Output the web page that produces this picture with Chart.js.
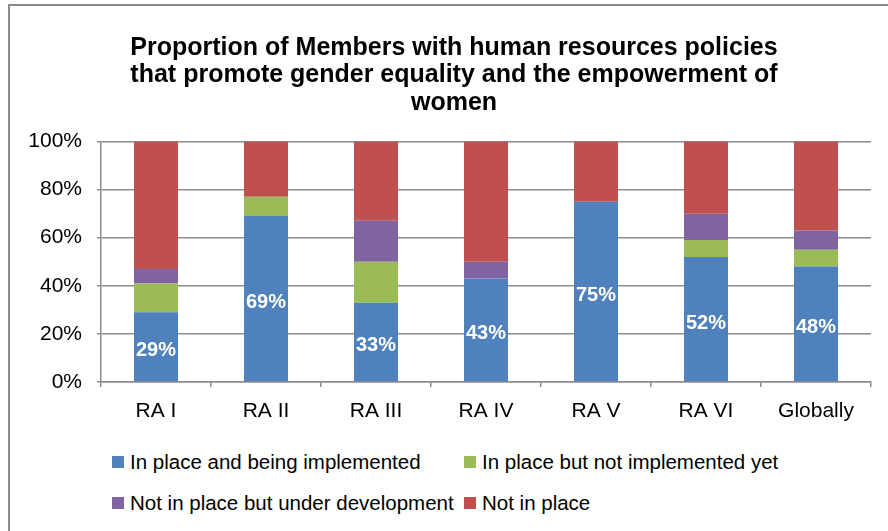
<!DOCTYPE html>
<html>
<head>
<meta charset="utf-8">
<script src="https://cdn.jsdelivr.net/npm/chart.js@4/dist/chart.umd.min.js"></script>
<style>
  html, body { margin: 0; padding: 0; background: #fff; }
  body { width: 888px; height: 531px; overflow: hidden; position: relative; font-family: "Liberation Sans", Arial, sans-serif; }
  #frame { position: absolute; left: 8px; top: 4px; width: 900px; height: 560px;
           border-left: 2px solid #8a8a8a; border-top: 2px solid #8a8a8a; }
  #wrap { position: absolute; left: 10px; top: 6px; width: 888px; height: 420px; }
  .lg { position: absolute; font-size: 20.5px; color: #000; line-height: 24px; white-space: nowrap; }
  .lg i { position: absolute; left: -18px; top: 6px; width: 12px; height: 12px; }
</style>
</head>
<body>
<div id="frame"></div>
<div id="wrap"><canvas id="c"></canvas></div>
<div id="legend"></div>
<script>
const categories = ['RA I', 'RA II', 'RA III', 'RA IV', 'RA V', 'RA VI', 'Globally'];
const seriesNames = [
  'In place and being implemented',
  'In place but not implemented yet',
  'Not in place but under development',
  'Not in place'
];
const implemented    = [29, 69, 33, 43, 75, 52, 48];
const notImplemented = [12,  8, 17,  0,  0,  7,  7];
const underDev       = [ 6,  0, 17,  7,  0, 11,  8];
const notInPlace     = [53, 23, 33, 50, 25, 30, 37];
const yTicks = [0, 20, 40, 60, 80, 100];

const colors = ['#4F81BD', '#9BBB59', '#8064A2', '#C0504D'];
const FONT = '"Liberation Sans", Arial, sans-serif';
const GRID = '#8c8c8c';

// legend in two fixed columns, as in the original
const lgPos = [[130, 450], [482, 450], [130, 491], [482, 491]];
const lg = document.getElementById('legend');
seriesNames.forEach((n, i) => {
    const d = document.createElement('div');
    d.className = 'lg';
    d.style.left = lgPos[i][0] + 'px';
    d.style.top  = lgPos[i][1] + 'px';
    d.innerHTML = `<i style="background:${colors[i]}"></i>${n}`;
    lg.appendChild(d);
});

// white % labels in the blue segments
const barLabels = {
    id: 'barLabels',
    afterDatasetsDraw(chart) {
        const ctx = chart.ctx;
        const meta = chart.getDatasetMeta(0);
        ctx.save();
        ctx.fillStyle = '#fff';
        ctx.font = `bold 20px ${FONT}`;
        ctx.textAlign = 'center';
        ctx.textBaseline = 'middle';
        meta.data.forEach((el, i) => {
            const { x, y, base } = el.getProps(['x', 'y', 'base'], true);
            ctx.fillText(implemented[i] + '%', x, (y + base) / 2 + 4);
        });
        ctx.restore();
    }
};

new Chart(document.getElementById('c'), {
    type: 'bar',
    data: {
        labels: categories,
        datasets: [implemented, notImplemented, underDev, notInPlace].map((v, i) => ({
            label: seriesNames[i],
            data: v,
            backgroundColor: colors[i],
            barPercentage: 0.4,
            categoryPercentage: 1.0,
        }))
    },
    options: {
        responsive: true,
        maintainAspectRatio: false,
        animation: false,
        layout: { padding: 0 },
        scales: {
            x: {
                stacked: true,
                grid: { drawOnChartArea: false, drawTicks: true, tickLength: 5, color: GRID, lineWidth: 1.5 },
                border: { color: GRID, width: 1.5 },
                ticks: { color: '#000', padding: 12, font: { family: FONT, size: 21 } },
                afterFit(scale) { scale.height = 44; },
            },
            y: {
                stacked: true,
                min: 0,
                max: 100,
                afterBuildTicks(scale) { scale.ticks = yTicks.map(v => ({ value: v })); },
                grid: { color: GRID, lineWidth: 1.5, tickLength: 4 },
                border: { color: GRID, width: 1.5 },
                ticks: { color: '#000', padding: 15, font: { family: FONT, size: 21 }, callback: v => v + '%' },
                afterFit(scale) { scale.width = 91; },
            },
            // empty right-hand spacer so the title stays centred on the whole frame
            yRight: {
                position: 'right',
                min: 0,
                max: 100,
                grid: { display: false },
                border: { display: false },
                ticks: { display: false },
                afterFit(scale) { scale.width = 27; },
            },
        },
        plugins: {
            legend: { display: false },
            tooltip: { enabled: false },
            title: {
                display: true,
                text: [
                    'Proportion of Members with human resources policies',
                    'that promote gender equality and the empowerment of',
                    'women'
                ],
                color: '#000',
                font: { family: FONT, size: 25, weight: 'bold', lineHeight: 1.1 },
                padding: { top: 28, bottom: 25 },
            },
        },
    },
    plugins: [barLabels],
});
</script>
</body>
</html>
